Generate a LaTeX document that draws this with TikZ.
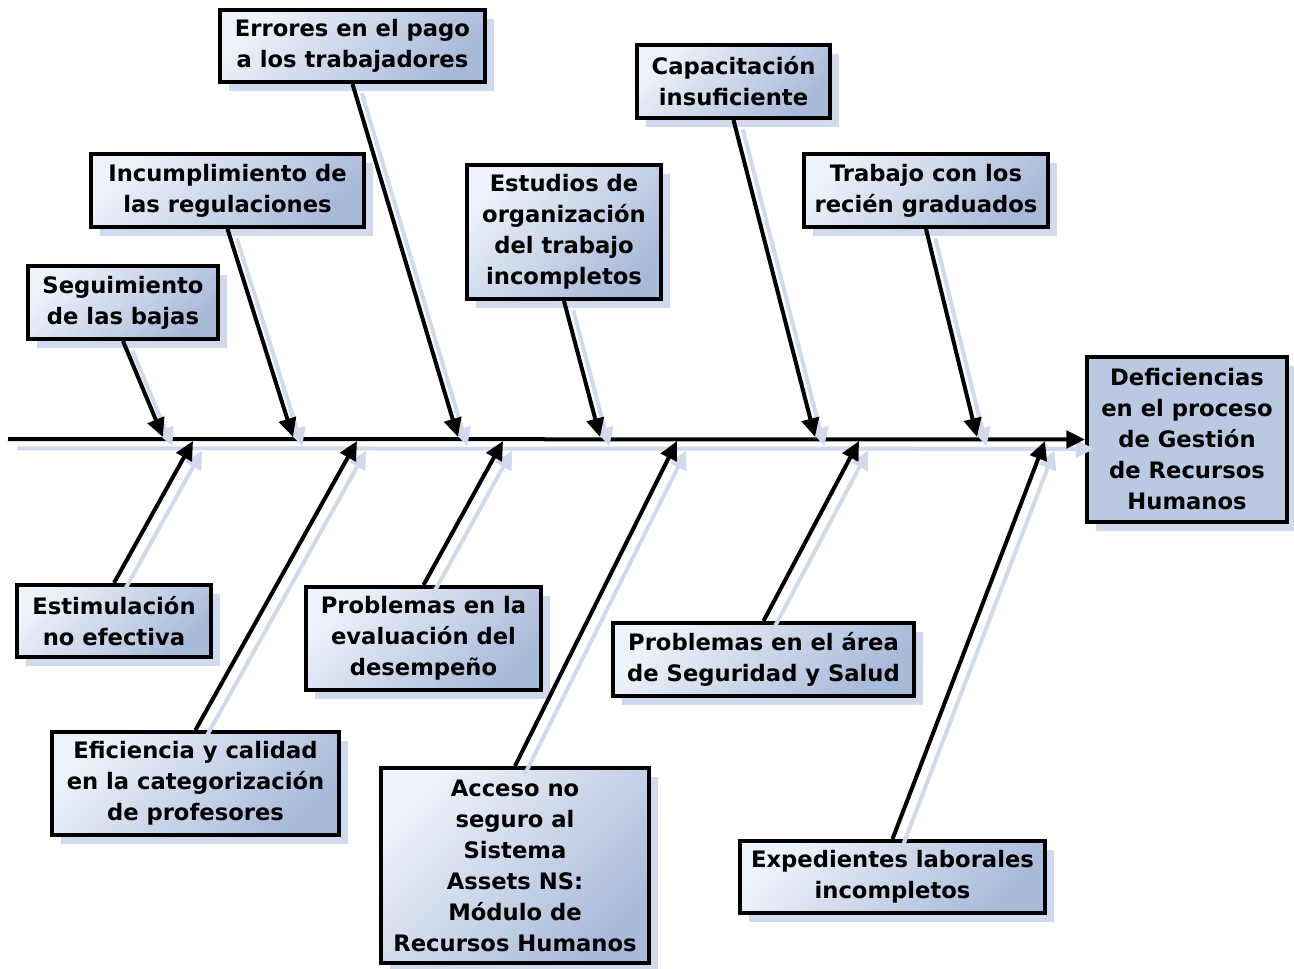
\documentclass[tikz,border=0pt]{standalone}
\usepackage{fontspec}
\setmainfont{DejaVu Sans}
\usetikzlibrary{arrows.meta,shadows}
\definecolor{shadowc}{RGB}{208,218,236}
\definecolor{boxlight}{RGB}{238,242,250}
\definecolor{boxdark}{RGB}{168,186,217}
\definecolor{effectc}{RGB}{185,201,226}
\tikzset{
 boxbase/.style={draw=black, line width=3pt, align=center, inner sep=0pt,
   font=\bfseries\fontsize{17}{23.25}\selectfont,
   drop shadow={shadow xshift=7pt, shadow yshift=-7pt, fill=shadowc, draw=none, opacity=1}},
 cause/.style={boxbase, top color=boxlight, bottom color=boxdark, shading angle=45},
 effect/.style={boxbase, fill=effectc},
 conn/.style={line width=3pt, -{Triangle[length=14pt,width=13pt]},
   preaction={draw=shadowc, line width=3pt, -{Triangle[length=14pt,width=13pt]},
     transform canvas={shift={(7pt,-7pt)}}}},
}
\begin{document}
\begin{tikzpicture}[x=0.75pt,y=-0.75pt]
\useasboundingbox (0,0) rectangle (1294,969);
% effect
\node[effect, minimum width=200*0.75pt, minimum height=165*0.75pt] (eff) at (1187,439.5)
  {Deficiencias\\en el proceso\\de Gestión\\de Recursos\\Humanos};
% spine
\coordinate (s0) at (8,439);
\draw[conn] (s0) -- (eff.west);
% top causes
\node[cause, minimum width=265*0.75pt, minimum height=72*0.75pt] (c1) at (352.5,46) {Errores en el pago\\a los trabajadores};
\node[cause, minimum width=273*0.75pt, minimum height=73*0.75pt] (c2) at (227.5,190.5) {Incumplimiento de\\las regulaciones};
\node[cause, minimum width=190*0.75pt, minimum height=73*0.75pt] (c3) at (123,302.5) {Seguimiento\\de las bajas};
\node[cause, minimum width=194*0.75pt, minimum height=134*0.75pt] (c4) at (564,232) {Estudios de\\organización\\del trabajo\\incompletos};
\node[cause, minimum width=193*0.75pt, minimum height=73*0.75pt] (c5) at (733.5,81.5) {Capacitación\\insuficiente};
\node[cause, minimum width=244*0.75pt, minimum height=73*0.75pt] (c6) at (926,190.5) {Trabajo con los\\recién graduados};
% bottom causes
\node[cause, minimum width=194*0.75pt, minimum height=72*0.75pt] (c7) at (114,621) {Estimulación\\no efectiva};
\node[cause, minimum width=287*0.75pt, minimum height=103*0.75pt] (c8) at (195.5,783.5) {Eficiencia y calidad\\en la categorización\\de profesores};
\node[cause, minimum width=235*0.75pt, minimum height=103*0.75pt] (c9) at (423.5,638.5) {Problemas en la\\evaluación del\\desempeño};
\node[cause, minimum width=268*0.75pt, minimum height=195*0.75pt] (c10) at (515,865.5) {Acceso no\\seguro al\\Sistema\\Assets NS:\\Módulo de\\Recursos Humanos};
\node[cause, minimum width=301*0.75pt, minimum height=73*0.75pt] (c11) at (763.5,659.5) {Problemas en el área\\de Seguridad y Salud};
\node[cause, minimum width=305*0.75pt, minimum height=72*0.75pt] (c12) at (892.5,877) {Expedientes laborales\\incompletos};
% spine points
\coordinate (t1) at (163,437);
\coordinate (t2) at (293,437);
\coordinate (t3) at (458,437);
\coordinate (t4) at (600,437);
\coordinate (t5) at (815,437);
\coordinate (t6) at (977,437);
\coordinate (b7) at (193,441);
\coordinate (b8) at (357,441);
\coordinate (b9) at (503,441);
\coordinate (b10) at (677,441);
\coordinate (b11) at (859,441);
\coordinate (b12) at (1045,441);
% connectors
\draw[conn] (c1.south) -- (t3);
\draw[conn] (c2.south) -- (t2);
\draw[conn] (c3.south) -- (t1);
\draw[conn] (c4.south) -- (t4);
\draw[conn] (c5.south) -- (t5);
\draw[conn] (c6.south) -- (t6);
\draw[conn] (c7.north) -- (b7);
\draw[conn] (c8.north) -- (b8);
\draw[conn] (c9.north) -- (b9);
\draw[conn] (c10.north) -- (b10);
\draw[conn] (c11.north) -- (b11);
\draw[conn] (c12.north) -- (b12);
\end{tikzpicture}
\end{document}
